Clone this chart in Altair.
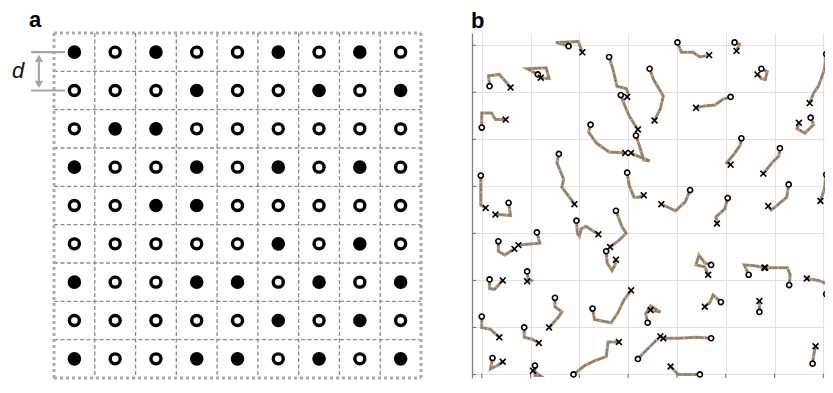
import altair as alt
import pandas as pd

# ---------------- panel a : 9 x 9 lattice (F = filled, O = open) ----------------
spin_rows = [
    "FOFOOFOFO",
    "OOOFOOFOF",
    "OFFOOOOOO",
    "FOOFOFOFO",
    "OOFFOOOOO",
    "OOOOOFOFO",
    "FOOFFOFOF",
    "OOOOOFOFO",
    "FOOFFOFOF",
]
n_cells = 9

# ---------------- panel b : trajectories (units: grid spacing = 10) ----------------
traj_x = [
    [1.6, 1.4, 3.6, 4.9, 5.9],
    [0, 0, 2.0, 2.8, 4.9],
    [11.5, 9.3, 13.2, 13.8, 12.1],
    [17.8, 15.2, 19.8, 20.6],
    [26.1, 26.9, 27.7, 29.6, 30.0, 29.8],
    [28.5, 29.1, 30.2, 31.2, 32.0],
    [22.3, 21.9, 23.5, 26.1, 29.4],
    [31.6, 32.4, 33.2, 34.4, 31.8, 30.6],
    [34.4, 35.2, 37.2, 36.6, 35.4],
    [40.1, 40.9, 43.3, 44.7, 46.6],
    [51.8, 52.8, 52.2],
    [57.3, 58.5, 58.1, 57.3, 56.5],
    [51.0, 49.4, 47.8, 45.7, 43.9],
    [70.6, 70.2, 69.0, 68.0, 67.2],
    [67.4, 68.0, 66.2, 64.6, 65.0],
    [-0.2, -0.2, 0.8],
    [5.5, 5.9, 3.6, 2.8],
    [15.8, 15.4, 16.8, 16.4, 18.4, 19.0],
    [29.8, 30.2, 31.2, 32.2, 33.2],
    [19.4, 19.6, 20.0, 20.4, 21.3, 23.9],
    [27.5, 28.7, 29.6, 28.1, 26.3],
    [25.5, 25.7, 26.7, 27.3, 27.5],
    [3.4, 3.4, 4.7, 5.9, 6.7],
    [11.3, 11.9, 9.3, 7.5],
    [53.2, 53.0, 51.6, 50.2, 51.0],
    [61.1, 60.9, 59.5, 57.7],
    [42.7, 41.7, 39.7, 36.8],
    [50.4, 49.8, 48.0, 48.2],
    [62.9, 62.5, 60.1, 59.3, 58.7],
    [70.6, 70.2, 69.4],
    [1.6, 1.6, 2.6, 4.3],
    [9.3, 9.5, 10.1, 9.3],
    [15.0, 15.0, 16.4, 15.8, 13.8],
    [22.7, 23.1, 26.5, 27.9, 29.1, 30.6],
    [0, 0, 1.8, 3.6],
    [8.7, 8.7, 10.3, 11.7],
    [2.2, 1.8, 3.2, 4.3],
    [10.9, 10.9, 11.9, 10.5],
    [18.8, 21.1, 23.1, 25.5, 25.9, 28.1],
    [34.0, 33.6, 34.6, 36.6, 34.6],
    [32.0, 33.2, 35.2, 36.6],
    [47.0, 43.9, 40.3, 37.2],
    [47.0, 45.7, 44.5, 43.9, 45.7, 46.4],
    [54.7, 53.8, 55.9, 57.9],
    [63.0, 63.2, 62.6, 59.5, 58.1],
    [70.6, 70.9, 69.0, 66.6],
    [49.0, 47.4, 46.8, 45.7],
    [56.9, 56.9, 56.9],
    [67.8, 68.0, 68.2, 68.4],
    [44.7, 40.3, 39.5, 38.7],
]
traj_y = [
    [61.3, 63.5, 63.8, 62.3, 61.0],
    [52.5, 55.6, 55.6, 54.2, 54.2],
    [63.8, 65.0, 65.2, 62.9, 63.1],
    [69.8, 70.6, 70.8, 68.5],
    [67.5, 64.8, 61.3, 60.8, 59.8, 59.0],
    [59.4, 57.7, 55.0, 53.3, 52.1],
    [53.1, 51.5, 49.2, 47.3, 47.1],
    [50.8, 48.3, 45.6, 45.4, 46.5, 47.1],
    [65.0, 62.7, 59.2, 56.5, 54.0],
    [70.6, 68.5, 68.5, 67.5, 67.9],
    [70.6, 70.2, 68.8],
    [65.0, 64.4, 62.7, 62.9, 63.8],
    [59.0, 58.5, 57.3, 57.1, 56.7],
    [68.1, 64.8, 61.3, 59.8, 57.7],
    [54.6, 53.1, 51.3, 52.3, 53.5],
    [42.3, 36.0, 35.4],
    [36.5, 33.8, 34.0, 34.0],
    [46.9, 45.0, 41.5, 39.8, 37.1, 36.2],
    [42.9, 40.2, 37.7, 37.7, 38.1],
    [32.7, 30.0, 29.4, 31.0, 31.5, 29.8],
    [34.8, 31.5, 30.0, 28.5, 27.1],
    [26.2, 23.7, 22.1, 23.3, 24.4],
    [28.3, 26.2, 25.4, 26.2, 26.7],
    [30.2, 27.9, 27.7, 27.5],
    [50.2, 48.8, 46.7, 45.0, 44.6],
    [48.1, 46.5, 45.0, 42.7],
    [39.2, 36.7, 34.8, 36.2],
    [37.5, 35.2, 33.5, 32.1],
    [40.4, 37.7, 35.6, 35.0, 35.8],
    [42.5, 39.4, 36.9],
    [20.2, 18.3, 18.1, 20.0],
    [21.9, 20.4, 20.0, 19.8],
    [16.3, 14.4, 13.3, 12.3, 10.0],
    [14.0, 11.7, 11.0, 13.1, 15.8, 17.9],
    [12.3, 10.0, 9.6, 7.9],
    [10.0, 7.9, 7.5, 6.7],
    [3.5, 1.2, 1.9, 2.7],
    [1.9, -0.2, -0.2, 0.8],
    [0, 1.9, 2.9, 3.8, 6.9, 6.9],
    [11.0, 12.9, 14.6, 13.3, 13.7],
    [3.3, 4.6, 6.7, 8.1],
    [7.7, 7.9, 7.7, 7.7],
    [23.3, 23.7, 25.4, 23.3, 22.9, 21.2],
    [21.2, 23.3, 23.1, 22.7],
    [19.0, 21.2, 22.7, 22.7, 22.7],
    [17.1, 19.2, 20.0, 20.4],
    [15.4, 16.9, 15.4, 14.4],
    [13.3, 14.6, 15.6],
    [2.3, 4.0, 5.0, 6.0],
    [0, 0, 0.8, 1.7],
]
grid_b = [0, 10, 20, 30, 40, 50, 60, 70]
x_dom_b = [-2.0, 70.34]
y_dom_b = [-0.75, 72.6]
speckle_colors = ["#3f7fd0", "#e0622a", "#e8b62c", "#8e4a9c", "#6aa83a"]

FONT = "Liberation Sans"
PANEL_H = 345

# ---------------- build panel a tables ----------------
cells = []
for r, s in enumerate(spin_rows):
    for c, ch in enumerate(s):
        cells.append({"cx": c + 0.5, "cy": r + 0.5, "state": ch})
cells_df = pd.DataFrame(cells)

inner = []
for v in range(1, n_cells):
    inner.append({"x": v, "y": 0, "x2": v, "y2": n_cells})
    inner.append({"x": 0, "y": v, "x2": n_cells, "y2": v})
inner_df = pd.DataFrame(inner)
outer_df = pd.DataFrame([
    {"x": 0, "y": 0, "x2": n_cells, "y2": 0},
    {"x": n_cells, "y": 0, "x2": n_cells, "y2": n_cells},
    {"x": 0, "y": n_cells, "x2": n_cells, "y2": n_cells},
    {"x": 0, "y": 0, "x2": 0, "y2": n_cells},
])
ann_lines_df = pd.DataFrame([
    {"x": -0.56, "y": 0.5, "x2": 0.27, "y2": 0.5},
    {"x": -0.56, "y": 1.5, "x2": 0.27, "y2": 1.5},
    {"x": -0.37, "y": 0.62, "x2": -0.37, "y2": 1.38},
])
heads_df = pd.DataFrame([
    {"x": -0.37, "y": 0.66, "shape": "triangle-up"},
    {"x": -0.37, "y": 1.34, "shape": "triangle-down"},
])
dlabel_df = pd.DataFrame([{"x": -0.88, "y": 0.98, "t": "d"}])

xa = alt.Scale(domain=[0, n_cells], nice=False, zero=False)
ya = alt.Scale(domain=[0, n_cells], nice=False, zero=False, reverse=True)


def seg_layer(df, **mark):
    return alt.Chart(df).mark_rule(**mark).encode(
        x=alt.X("x:Q", scale=xa, axis=None),
        y=alt.Y("y:Q", scale=ya, axis=None),
        x2="x2:Q",
        y2="y2:Q",
    )


a_inner = seg_layer(inner_df, color="#8a8a8a", strokeWidth=1.3, strokeDash=[4, 2.5])
a_outer = seg_layer(outer_df, color="#ababab", strokeWidth=3, strokeDash=[3, 3])
a_ann = seg_layer(ann_lines_df, color="#a6a6a6", strokeWidth=2.2)
a_heads = alt.Chart(heads_df).mark_point(filled=True, color="#a6a6a6", size=70, opacity=1).encode(
    x=alt.X("x:Q", scale=xa, axis=None),
    y=alt.Y("y:Q", scale=ya, axis=None),
    shape=alt.Shape("shape:N", scale=None),
)
a_d = alt.Chart(dlabel_df).mark_text(font=FONT, fontSize=22, fontStyle="italic", color="#111111",
                                     align="center", baseline="middle").encode(
    x=alt.X("x:Q", scale=xa, axis=None),
    y=alt.Y("y:Q", scale=ya, axis=None),
    text="t:N",
)
a_filled = alt.Chart(cells_df).transform_filter(alt.datum.state == "F").mark_point(
    shape="circle", filled=True, color="black", size=185, opacity=1).encode(
    x=alt.X("cx:Q", scale=xa, axis=None),
    y=alt.Y("cy:Q", scale=ya, axis=None),
)
a_open = alt.Chart(cells_df).transform_filter(alt.datum.state == "O").mark_point(
    shape="circle", filled=True, fill="white", stroke="black", strokeWidth=3.4, size=100, opacity=1).encode(
    x=alt.X("cx:Q", scale=xa, axis=None),
    y=alt.Y("cy:Q", scale=ya, axis=None),
)

panel_a = alt.layer(a_inner, a_outer, a_ann, a_heads, a_d, a_filled, a_open).properties(
    width=367, height=PANEL_H,
    title=alt.TitleParams("a", anchor="start", frame="group", dx=-25, fontSize=22, offset=0,
                          fontWeight="bold", font=FONT, color="black"),
)

# ---------------- build panel b tables ----------------
assert len(traj_x) == len(traj_y)
rows = []
for i, (xs, ys) in enumerate(zip(traj_x, traj_y)):
    assert len(xs) == len(ys)
    for k, (xv, yv) in enumerate(zip(xs, ys)):
        rows.append({"id": i, "k": k, "px": xv, "py": yv, "n": len(xs)})
traj_df = pd.DataFrame(rows)
start_df = traj_df[traj_df["k"] == 0]
end_df = traj_df[traj_df["k"] == traj_df["n"] - 1]

xb = alt.Scale(domain=x_dom_b, nice=False, zero=False)
yb = alt.Scale(domain=y_dom_b, nice=False, zero=False)

xaxis_b = alt.Axis(values=grid_b, grid=True, gridColor="#e2e2e2", gridWidth=1, labels=False,
                   ticks=False, domain=False, title=None)
yaxis_b = alt.Axis(values=grid_b, grid=True, gridColor="#e2e2e2", gridWidth=1, labels=False,
                   ticks=False, domain=True, domainColor="#808080", domainWidth=1.3, title=None)

tick_df_y = pd.DataFrame({"v": grid_b, "lo": x_dom_b[0], "hi": x_dom_b[0] + 0.85})
tick_df_x = pd.DataFrame({"v": grid_b, "lo": y_dom_b[0], "hi": y_dom_b[0] + 0.9})

b_lines = alt.Chart(traj_df).mark_line(color="#a08e7c", strokeWidth=3, clip=True).encode(
    x=alt.X("px:Q", scale=xb, axis=xaxis_b),
    y=alt.Y("py:Q", scale=yb, axis=yaxis_b),
    detail="id:N",
    order="k:Q",
)
speckles = []
for j, col in enumerate(speckle_colors):
    speckles.append(
        alt.Chart(traj_df).mark_line(color=col, strokeWidth=1.6, strokeDash=[1.5, 8.5],
                                     strokeDashOffset=j * 2, opacity=0.85, clip=True).encode(
            x=alt.X("px:Q", scale=xb),
            y=alt.Y("py:Q", scale=yb),
            detail="id:N",
            order="k:Q",
        )
    )
b_ticks_y = alt.Chart(tick_df_y).mark_rule(color="#707070", strokeWidth=1).encode(
    y=alt.Y("v:Q", scale=yb), x=alt.X("lo:Q", scale=xb), x2="hi:Q")
b_ticks_x = alt.Chart(tick_df_x).mark_rule(color="#707070", strokeWidth=1).encode(
    x=alt.X("v:Q", scale=xb), y=alt.Y("lo:Q", scale=yb), y2="hi:Q")
b_start = alt.Chart(start_df).mark_point(shape="circle", filled=True, fill="white", stroke="black",
                                         strokeWidth=1.6, size=26, opacity=1, clip=True).encode(
    x=alt.X("px:Q", scale=xb), y=alt.Y("py:Q", scale=yb))
b_end = alt.Chart(end_df).mark_point(shape="M-1,-1L1,1M-1,1L1,-1", filled=False, stroke="black",
                                     strokeWidth=1.6, size=34, opacity=1, clip=True).encode(
    x=alt.X("px:Q", scale=xb), y=alt.Y("py:Q", scale=yb))

panel_b = alt.layer(b_lines, *speckles, b_ticks_y, b_ticks_x, b_start, b_end).properties(
    width=353, height=PANEL_H,
    title=alt.TitleParams("b", anchor="start", frame="group", dx=-1, fontSize=22, offset=0,
                          fontWeight="bold", font=FONT, color="black"),
)

chart = alt.hconcat(panel_a, panel_b, spacing=48).properties(
    padding={"left": 3, "top": 0, "right": 0, "bottom": 0},
    background="white",
).configure_view(strokeWidth=0)

chart.save("out.html", embed_options={"renderer": "svg", "actions": False})
